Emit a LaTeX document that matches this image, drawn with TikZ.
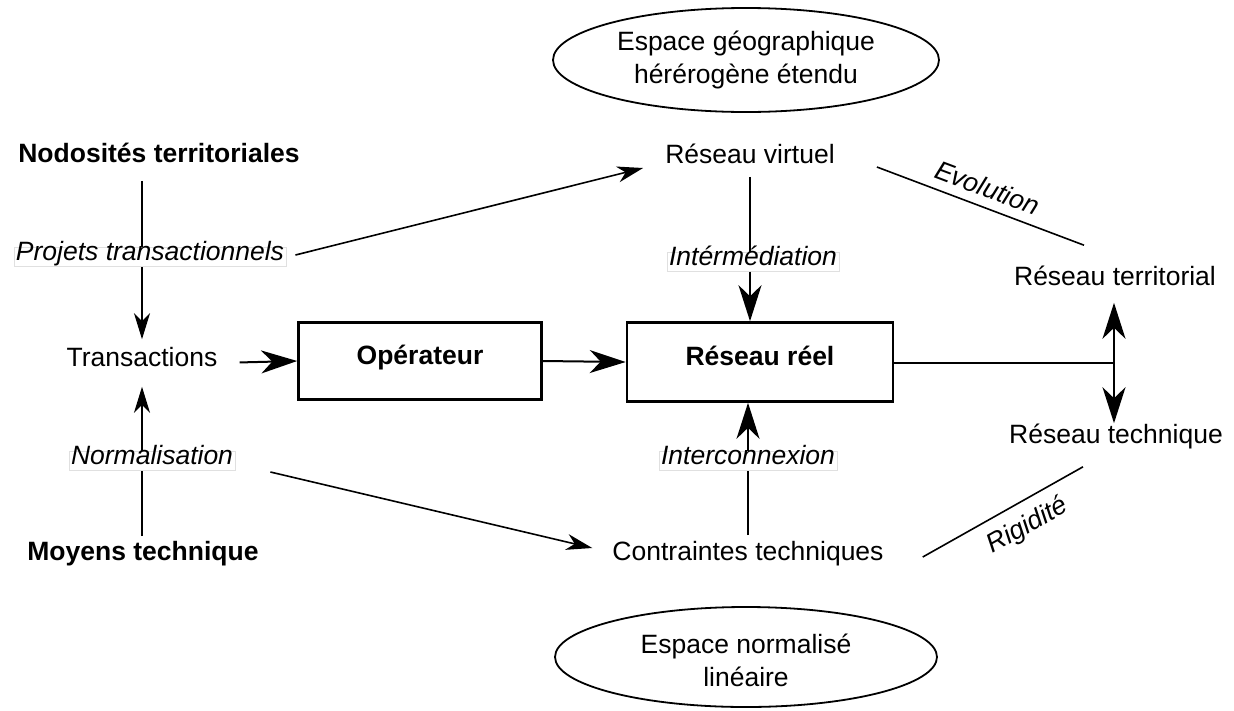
\documentclass[tikz,border=0pt]{standalone}
\usepackage{fontspec}
\setmainfont{Liberation Sans}
\usetikzlibrary{arrows.meta,calc}
\newcommand\myfs{\fontsize{26.5}{33}\selectfont}
\begin{document}
\begin{tikzpicture}[x=1pt,y=-1pt,
  txt/.style={font=\myfs, text height=0.72em, text depth=0pt, inner sep=0pt},
  bold/.style={txt, font=\myfs\bfseries},
  lbl/.style={txt, font=\myfs\itshape, fill=white, draw=black!12, line width=0.8pt, inner xsep=2pt, inner ysep=6pt},
  blockbox/.style={draw, line width=2.6pt, font=\myfs\bfseries, text height=0.72em, text depth=0pt, inner sep=0pt},
  twoline/.style={font=\myfs, align=center, inner sep=0pt},
  ell/.style={line width=1.8pt},
  conn/.style={line width=2pt},
  thin/.style={line width=1.6pt},
  slab/.style={font=\myfs\itshape, inner sep=0pt, sloped},
  bigtip/.style={-{Stealth[length=36pt, width=23pt, inset=11pt]}},
  smalltip/.style={-{Stealth[length=26pt, width=16pt, inset=8pt]}},
]
\useasboundingbox (0,0) rectangle (1234,710);

% ellipses
\node[twoline] (geo) at (746,60) {Espace géographique\\hérérogène étendu};
\draw[ell] (geo.center) ellipse [x radius=193, y radius=52];
\node[twoline] (norme) at (746,660) {Espace normalisé\\linéaire};
\draw[ell] ([yshift=3pt]norme.center) ellipse [x radius=191, y radius=50];

% nodes
\node[bold] (nod) at (159,159) {Nodosités territoriales};
\node[lbl] (proj) at (150,257) {Projets transactionnels};
\node[txt] (trans) at (142,363) {Transactions};
\node[lbl] (norm) at (152,461) {Normalisation};
\node[bold] (moy) at (143,557) {Moyens technique};
\node[blockbox, minimum width=243pt, minimum height=77pt] (op) at (420,361) {Opérateur};
\node[blockbox, minimum width=266pt, minimum height=79pt] (reel) at (760,362) {Réseau réel};
\node[txt] (virt) at (750,160) {Réseau virtuel};
\node[lbl] (inter) at (753,261.5) {Intérmédiation};
\node[lbl] (interc) at (748,461) {Interconnexion};
\node[txt] (cont) at (748,557) {Contraintes techniques};
\node[txt] (rterr) at (1115,282) {Réseau territorial};
\node[txt] (rtech) at (1116,440) {Réseau technique};
\coordinate (J) at (1114,363);

% left column
\draw[conn, shorten <=18pt] (trans.north |- nod.south) -- (trans.north |- proj.north);
\draw[conn, smalltip, shorten >=20pt] (trans.north |- proj.south) -- (trans.north);
\draw[conn, shorten <=17pt] (trans.south |- moy.north) -- (trans.south |- norm.south);
\draw[conn, smalltip, shorten >=20pt] (trans.south |- norm.north) -- (trans.south);

% main row
\draw[conn, bigtip, shorten <=22pt] (trans.east) -- (op.west);
\draw[conn, bigtip] (op.east) -- (reel.west);
\draw[conn] (reel.east |- J) -- (J);
\draw[conn, bigtip, shorten >=17pt] (J) -- (J |- rterr.south);
\draw[conn, bigtip, shorten >=13pt] (J) -- (J |- rtech.north);

% middle column
\draw[conn, shorten <=13pt] (virt.south) -- (virt.south |- inter.north);
\draw[conn, bigtip] (virt.south |- inter.south) -- (virt.south |- reel.north);
\draw[conn, shorten <=18pt] (cont.north) -- (cont.north |- interc.south);
\draw[conn, bigtip] (cont.north |- interc.north) -- (cont.north |- reel.south);

% diagonals
\draw[thin, smalltip] ([xshift=9pt,yshift=2pt]proj.east) -- ([xshift=-22pt,yshift=-8pt]virt.west);
\draw[thin, smalltip] ([xshift=35pt,yshift=-11pt]norm.east) -- ([xshift=-20pt,yshift=9pt]cont.west);
\draw[thin] ([xshift=42pt,yshift=-7pt]virt.east) -- node[slab, pos=0.5, above=9pt] (evo) {Evolution} ([xshift=-31pt,yshift=33pt]rterr.north);
\draw[thin] ([xshift=39pt]cont.east) -- node[slab, pos=0.58, below=11pt] (rig) {Rigidité} ([xshift=-33pt,yshift=-23pt]rtech.south);
\end{tikzpicture}
\end{document}
